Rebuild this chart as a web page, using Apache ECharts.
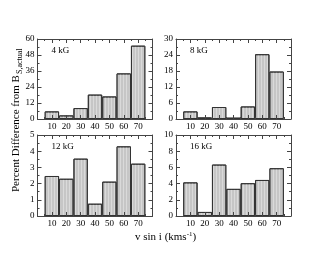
<!DOCTYPE html>
<html><head><meta charset="utf-8">
<script src="https://cdn.jsdelivr.net/npm/echarts@6/dist/echarts.min.js"></script>
<style>html,body{margin:0;padding:0;background:#fff}#c{width:329px;height:255px}</style>
</head><body><div id="c"></div>
<script>
const vsini = [10, 20, 30, 40, 50, 60, 70];
const diff4kG = [5.7, 2.7, 8.2, 18.3, 16.9, 34.2, 55.0];
const diff8kG = [2.85, 0.6, 4.5, 0.5, 4.7, 24.3, 17.8];
const diff12kG = [2.47, 2.3, 3.54, 0.76, 2.12, 4.3, 3.23];
const diff16kG = [4.15, 0.5, 6.35, 3.35, 4.05, 4.45, 5.9];
const panelLabels = ['4 kG', '8 kG', '12 kG', '16 kG'];
const yMax = [60, 30, 5, 10];
const yStep = [12, 6, 1, 2];
const series = [diff4kG, diff8kG, diff12kG, diff16kG];

const font = 'Liberation Serif';
const grids = [
  {left: 37.5, top: 39, width: 115, height: 80},
  {left: 176, top: 39, width: 115, height: 80},
  {left: 37.5, top: 135, width: 115, height: 81},
  {left: 176, top: 135, width: 115, height: 81}
];
const xAxis = [], yAxis = [], ser = [], graphic = [];
const lineStyle = {color: '#444', width: 1};
grids.forEach((g, i) => {
  const common = {
    gridIndex: i, type: 'value', z: 5,
    axisLine: {show: true, onZero: false, lineStyle},
    axisTick: {show: true, inside: true, length: 4, lineStyle},
    minorTick: {show: true, splitNumber: 2, length: 2, lineStyle},
    splitLine: {show: false}, minorSplitLine: {show: false}
  };
  xAxis.push(Object.assign({}, common, {
    position: 'bottom', min: 0, max: 80, interval: 10,
    axisLabel: {show: true, fontFamily: font, fontSize: 9, color: '#000', margin: 3,
      formatter: v => (v === 0 || v === 80) ? '' : String(v)}
  }));
  xAxis.push(Object.assign({}, common, {
    position: 'top', min: 0, max: 80, interval: 10, axisLabel: {show: false}
  }));
  yAxis.push(Object.assign({}, common, {
    position: 'left', min: 0, max: yMax[i], interval: yStep[i],
    axisLabel: {show: true, fontFamily: font, fontSize: 9, color: '#000', margin: 3}
  }));
  yAxis.push(Object.assign({}, common, {
    position: 'right', min: 0, max: yMax[i], interval: yStep[i], axisLabel: {show: false}
  }));
  ser.push({
    type: 'bar', xAxisIndex: 2 * i, yAxisIndex: 2 * i,
    data: vsini.map((x, k) => [x, series[i][k]]),
    barWidth: g.width / 8, z: 2,
    itemStyle: {color: '#c6c6c6', borderColor: '#333', borderWidth: 1,
      decal: {symbol: 'rect', symbolSize: 1, dashArrayX: [1, 2], dashArrayY: [4, 0],
        color: 'rgba(255,255,255,0.35)', rotation: 0}},
    emphasis: {disabled: true}, silent: true
  });
  graphic.push({type: 'text', left: g.left + 14, top: g.top + 7,
    style: {text: panelLabels[i], font: '9px "Liberation Serif"', fill: '#000'}});
});
graphic.push({type: 'text', left: 135, top: 231,
  style: {rich: {a: {fontFamily: font, fontSize: 11, fill: '#000'}, s: {fontFamily: font, fontSize: 7, verticalAlign: 'top', padding: [0,0,6,0]}},
  text: '{a|v sin i (kms}{s|-1}{a|)}', font: '11px "Liberation Serif"', fill: '#000'}});
graphic.push({type: 'text', x: 16.5, y: 192, rotation: Math.PI / 2,
  style: {text: 'Percent Difference from B', font: '11px "Liberation Serif"', fill: '#000', verticalAlign: 'middle'}});
graphic.push({type: 'text', x: 19.5, y: 74, rotation: Math.PI / 2,
  style: {text: 'S,actual', font: '8px "Liberation Serif"', fill: '#000', verticalAlign: 'middle'}});
const chart = echarts.init(document.getElementById('c'), null, {renderer: 'canvas'});
chart.setOption({
  animation: false, backgroundColor: '#fff',
  grid: grids, xAxis, yAxis, series: ser, graphic
});
</script></body></html>
